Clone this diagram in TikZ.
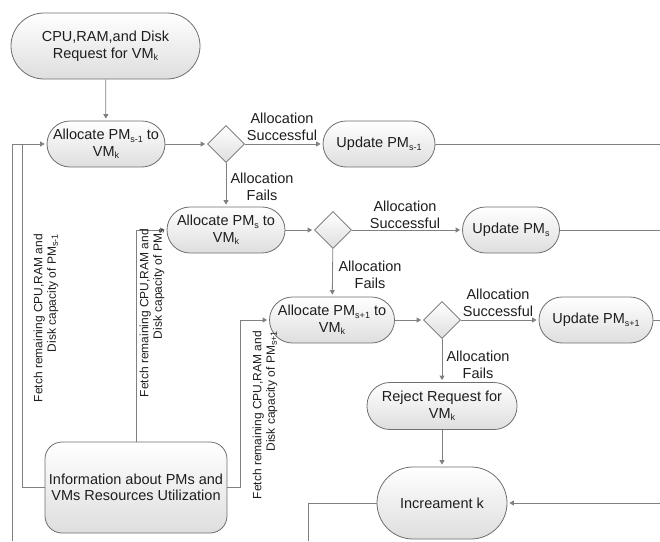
\documentclass[tikz,border=0pt]{standalone}
\usepackage{fontspec}
\setmainfont{Liberation Sans}
\usetikzlibrary{shapes.geometric,arrows.meta}
\definecolor{linegray}{RGB}{128,128,128}
\definecolor{bordergray}{RGB}{110,110,110}
\definecolor{nodegray}{RGB}{222,222,222}
\definecolor{txt}{RGB}{30,30,30}
\newcommand\mfont{\fontsize{14.5}{16.5}\selectfont}
\newcommand\rfont{\fontsize{12}{13.3}\selectfont}
\newcommand\mysub[1]{\raisebox{-0.35ex}{\fontsize{9}{9}\selectfont #1}}
\tikzset{
  base/.style={draw=bordergray, line width=0.8pt, top color=white, bottom color=nodegray,
    font=\mfont, text=txt, align=center, inner sep=0pt},
  stadium/.style={base, rectangle, rounded corners=23pt, minimum height=46pt},
  decision/.style={base, diamond, aspect=1, minimum width=37pt, minimum height=37pt},
  conn/.style={draw=linegray, line width=0.8pt},
  arr/.style={conn, -{Triangle[width=5pt,length=4.5pt]}, shorten >=2pt},
  lbl/.style={font=\mfont, text=txt, align=center, inner sep=0pt},
  rlbl/.style={font=\rfont, text=txt, align=right, inner sep=0pt, rotate=90, anchor=east},
}
\begin{document}
\begin{tikzpicture}[x=1pt,y=-1pt]
\useasboundingbox (0,0) rectangle (660,541);
% nodes
\node[base, rectangle, rounded corners=33pt, minimum width=189pt, minimum height=66pt] (top) at (105.5,46) {CPU,RAM,and Disk\\Request for VM\mysub{k}};
\node[stadium, minimum width=118pt] (a1) at (106,144) {Allocate PM\mysub{s-1} to\\VM\mysub{k}};
\node[decision] (d1) at (226,144) {};
\node[stadium, minimum width=112pt] (u1) at (379,144) {Update PM\mysub{s-1}};
\node[stadium, minimum width=118pt] (a2) at (226,230) {Allocate PM\mysub{s} to\\VM\mysub{k}};
\node[decision] (d2) at (333,230) {};
\node[stadium, minimum width=97pt] (u2) at (511,230) {Update PM\mysub{s}};
\node[stadium, minimum width=125pt] (a3) at (332,320) {Allocate PM\mysub{s+1} to\\VM\mysub{k}};
\node[decision] (d3) at (442,320) {};
\node[stadium, minimum width=114pt] (u3) at (596,320) {Update PM\mysub{s+1}};
\node[stadium, minimum width=150pt, minimum height=47pt] (rej) at (442,406) {Reject Request for\\VM\mysub{k}};
\node[base, rectangle, rounded corners=36pt, minimum width=130pt, minimum height=72pt] (inc) at (442,503) {Increament k};
\node[base, rectangle, rounded corners=17pt, minimum width=182pt, minimum height=91pt] (info) at (136,487.5) {Information about PMs and\\VMs Resources Utilization};
% coordinates
\coordinate (e1) at (660,144);
\coordinate (e2) at (660,230);
\coordinate (e3) at (660,320);
\coordinate (e4) at (660,503);
\coordinate (b1) at (308,541);
\coordinate (b0) at (12,541);
\coordinate (k1) at (22,144);
\coordinate (k3) at (240,320);
% connectors
\draw[arr] (top) -- (a1);
\draw[arr] (a1) -- (d1);
\draw[arr] (d1) -- (u1);
\draw[arr] (d1) -- (a2);
\draw[arr] (a2) -- (d2);
\draw[arr] (d2) -- (u2);
\draw[arr] (d2) -- (a3);
\draw[arr] (a3) -- (d3);
\draw[arr] (d3) -- (u3);
\draw[arr] (d3) -- (rej);
\draw[arr] (rej) -- (inc);
\draw[conn] (u1) -- (e1);
\draw[conn] (u2) -- (e2);
\draw[conn] (u3) -- (e3);
\draw[arr] (e4) -- (inc);
\draw[conn] (inc.west) -| (b1);
\draw[conn] (b0) |- (k1);
\draw[arr] (info.west) -| (k1) -- (a1.west);
\draw[arr] (info.north) |- (a2.west);
\draw[arr] (info.east) -| (k3) -- (a3.west);
% edge labels
\node[lbl] (s1) at (282,127) {Allocation\\Successful};
\node[lbl] (f1) at (262,187) {Allocation\\Fails};
\node[lbl] (s2) at (405,215) {Allocation\\Successful};
\node[lbl] (f2) at (370,275) {Allocation\\Fails};
\node[lbl] (s3) at (498,303) {Allocation\\Successful};
\node[lbl] (f3) at (478,365) {Allocation\\Fails};
\node[rlbl] (r1) at (46,234) {Fetch remaining CPU,RAM and\\Disk capacity of PM\mysub{s-1}};
\node[rlbl] (r2) at (152,229) {Fetch remaining CPU,RAM and\\Disk capacity of PM\mysub{s}};
\node[rlbl] (r3) at (265,331) {Fetch remaining CPU,RAM and\\Disk capacity of PM\mysub{s+1}};
\end{tikzpicture}
\end{document}
